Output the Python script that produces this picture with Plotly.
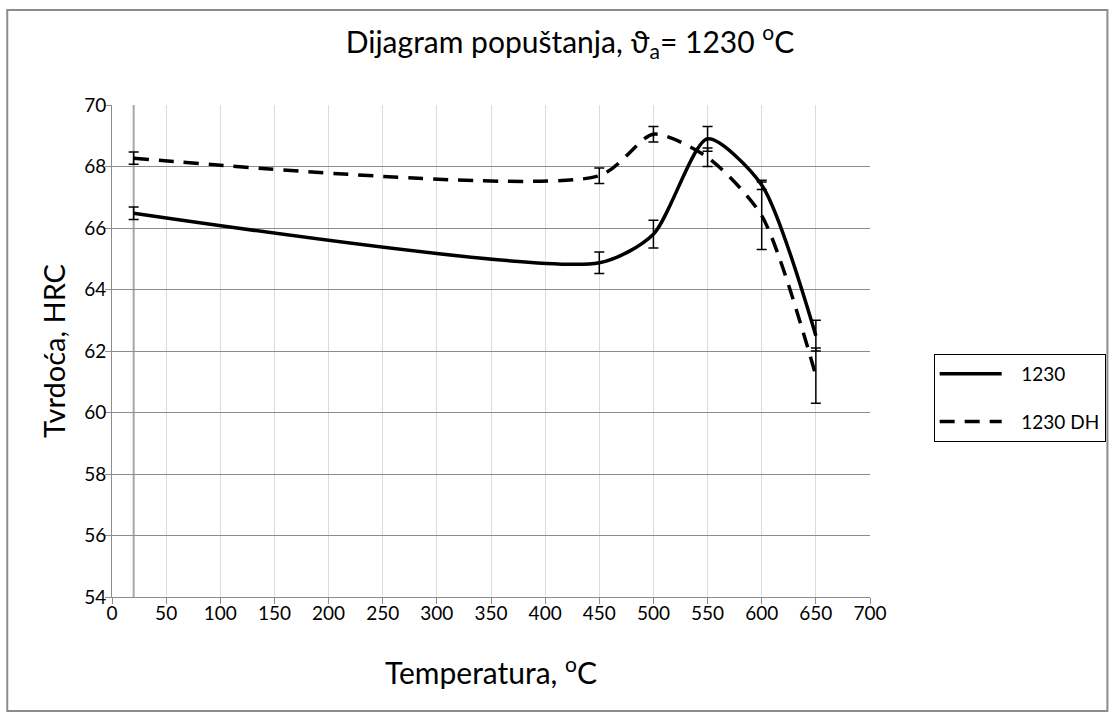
import plotly.graph_objects as go

temps = [20, 450, 500, 550, 600, 650]
hrc_1230 = [66.48, 64.87, 65.8, 68.9, 67.4, 62.5]
err_1230 = [0.2, 0.35, 0.45, 0.4, 0.15, 0.5]
hrc_1230dh = [68.27, 67.7, 69.05, 68.3, 66.4, 61.2]
err_1230dh = [0.2, 0.25, 0.25, 0.3, 1.1, 0.9]

FONT = "Lato"
NB = "\u00a0"

fig = go.Figure()
fig.add_trace(go.Scatter(
    x=temps, y=hrc_1230, name=NB * 3 + "1230", mode="lines", legendgroup="a",
    line=dict(color="black", width=3.5, shape="spline", smoothing=0.7),
    error_y=dict(type="data", array=err_1230, visible=True, color="black", thickness=1.5, width=5),
))
fig.add_trace(go.Scatter(
    x=temps, y=hrc_1230dh, name=NB * 3 + "1230 DH", mode="lines", legendgroup="b",
    line=dict(color="black", width=3.5, dash="15px,10px", shape="spline", smoothing=0.7),
    error_y=dict(type="data", array=err_1230dh, visible=True, color="black", thickness=1.5, width=5),
))

fig.add_vline(x=temps[0], line=dict(color="#a8a8a8", width=2), layer="below")

# figure border
fig.add_shape(type="rect", xref="paper", yref="paper",
              x0=-0.1382, x1=1.3132, y0=-0.2317, y1=1.1931,
              line=dict(color="#8c8c8c", width=2))

fig.update_layout(
    width=1118, height=720,
    margin=dict(l=112, r=246, t=105, b=123),
    paper_bgcolor="white", plot_bgcolor="white",
    font=dict(family=FONT, color="black", size=19),
    title=dict(text="Dijagram popuštanja, ϑ<sub>a</sub>= 1230 <sup>o</sup>C",
               x=570 / 1118, xanchor="center", y=1 - 42 / 720, yanchor="middle",
               font=dict(size=30, family=FONT)),
    showlegend=True,
    legend=dict(x=1.084, xanchor="left", y=0.494, yanchor="top",
                bordercolor="black", borderwidth=1, bgcolor="white",
                font=dict(size=19, family=FONT), tracegroupgap=20,
                itemwidth=62),
    xaxis=dict(range=[0, 700], dtick=50, tick0=0, showgrid=True, gridcolor="#dcdcdc", gridwidth=1,
               showline=True, linecolor="#8c8c8c", linewidth=1, ticks="outside", ticklen=6,
               tickcolor="#8c8c8c", zeroline=False, ticklabelstandoff=-7,
               tickfont=dict(size=19, family=FONT),
               title=dict(text="Temperatura, <sup>o</sup>C", font=dict(size=30, family=FONT), standoff=40)),
    yaxis=dict(range=[54, 70], dtick=2, tick0=54, showgrid=True, gridcolor="#8c8c8c", gridwidth=1,
               showline=True, linecolor="#8c8c8c", linewidth=1, ticks="outside", ticklen=6,
               tickcolor="#8c8c8c", zeroline=False, ticklabelstandoff=-5,
               tickfont=dict(size=19, family=FONT),
               title=dict(text="Tvrdoća, HRC", font=dict(size=29, family=FONT), standoff=10)),
)

fig.write_html("out.html", config={"displayModeBar": False},
               post_script="document.body.style.margin='0';document.body.style.padding='0';")
